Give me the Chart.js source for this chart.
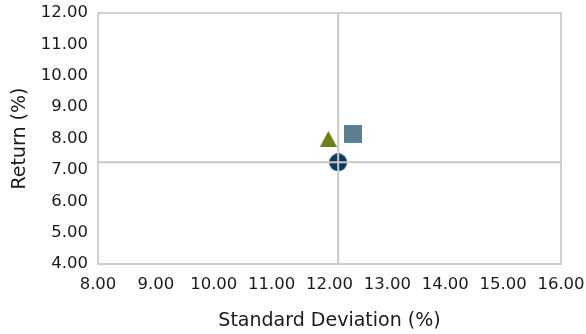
<!DOCTYPE html>
<html>
<head>
<meta charset="utf-8">
<script src="https://cdn.jsdelivr.net/npm/chart.js@4/dist/chart.umd.min.js"></script>
<style>
  html, body { margin: 0; padding: 0; background: #ffffff; }
  #wrap { width: 586px; height: 334px; position: relative; }
</style>
</head>
<body>
<div id="wrap"><canvas id="chart"></canvas></div>
<script>
// Risk / return values (%)
const seriesNames = ['Portfolio A', 'Portfolio B', 'Benchmark'];
const stdDevs = [11.98, 12.41, 12.15];
const returns = [7.99, 8.15, 7.24];

// Axis ticks
const xTicks = [8, 9, 10, 11, 12, 13, 14, 15, 16];
const yTicks = [4, 5, 6, 7, 8, 9, 10, 11, 12];

const benchmarkIndex = 2;
const gridGray = '#c9c9c9';
const textColor = '#1a1a1a';
const fontFamily = '"DejaVu Sans", sans-serif';

// Marker images
function makeMarker(shape, w, h, color) {
  const c = document.createElement('canvas');
  c.width = w; c.height = h;
  const ctx = c.getContext('2d');
  ctx.fillStyle = color;
  ctx.beginPath();
  if (shape === 'triangle') {
    ctx.moveTo(w / 2, 0);
    ctx.lineTo(w, h);
    ctx.lineTo(0, h);
    ctx.closePath();
  } else if (shape === 'square') {
    ctx.rect(0, 0, w, h);
  } else {
    ctx.arc(w / 2, h / 2, w / 2, 0, Math.PI * 2);
  }
  ctx.fill();
  return c;
}

const markers = [
  makeMarker('triangle', 17, 16, '#6e7f16'),
  makeMarker('square', 18, 18, '#5c7f94'),
  makeMarker('circle', 18, 18, '#0e3a5e')
];

const xMin = xTicks[0], xMax = xTicks[xTicks.length - 1];
const yMin = yTicks[0], yMax = yTicks[yTicks.length - 1];

const pointSets = seriesNames.map((name, i) => ({
  label: name,
  type: 'scatter',
  data: [{ x: stdDevs[i], y: returns[i] }],
  pointStyle: markers[i],
  pointRadius: 9,
  pointHoverRadius: 9,
  order: 2
}));

// Cross lines through the benchmark
const crossLines = [
  {
    label: 'bench-h',
    type: 'line',
    data: [{ x: xMin, y: returns[benchmarkIndex] }, { x: xMax, y: returns[benchmarkIndex] }],
    borderColor: gridGray, borderWidth: 2, pointRadius: 0, fill: false, order: 0
  },
  {
    label: 'bench-v',
    type: 'line',
    data: [{ x: stdDevs[benchmarkIndex], y: yMin }, { x: stdDevs[benchmarkIndex], y: yMax }],
    borderColor: gridGray, borderWidth: 2, pointRadius: 0, fill: false, order: 0
  }
];

const frame = {
  id: 'frame',
  beforeDatasetsDraw(chart) {
    const { ctx, chartArea: a } = chart;
    ctx.save();
    ctx.strokeStyle = '#d0d0d0';
    ctx.lineWidth = 2;
    ctx.strokeRect(a.left, a.top, a.right - a.left, a.bottom - a.top);
    ctx.restore();
  }
};

new Chart(document.getElementById('chart'), {
  type: 'scatter',
  data: { datasets: [...crossLines, ...pointSets] },
  plugins: [frame],
  options: {
    responsive: true,
    maintainAspectRatio: false,
    animation: false,
    layout: { padding: { left: 0, top: 13, right: 25, bottom: 0 } },
    plugins: { legend: { display: false }, tooltip: { enabled: false } },
    scales: {
      x: {
        type: 'linear',
        min: xMin, max: xMax,
        afterBuildTicks(scale) { scale.ticks = xTicks.map(v => ({ value: v })); },
        afterFit(scale) {
          scale.height = 70;
          scale.paddingLeft = 0;
          scale.paddingRight = 0;
        },
        grid: { display: false, drawTicks: false },
        border: { display: false },
        ticks: {
          padding: 11,
          color: textColor,
          font: { family: fontFamily, size: 16.5 },
          maxRotation: 0,
          callback: v => Number(v).toFixed(2)
        },
        title: {
          display: true,
          text: 'Standard Deviation (%)',
          color: textColor,
          font: { family: fontFamily, size: 19 },
          padding: { top: 1.5, bottom: 1.5 }
        }
      },
      y: {
        type: 'linear',
        min: yMin, max: yMax,
        afterBuildTicks(scale) { scale.ticks = yTicks.map(v => ({ value: v })); },
        afterFit(scale) {
          scale.width = 98;
          scale.paddingTop = 0;
          scale.paddingBottom = 0;
        },
        grid: { display: false, drawTicks: false },
        border: { display: false },
        ticks: {
          padding: 10,
          color: textColor,
          font: { family: fontFamily, size: 16.5 },
          callback: v => Number(v).toFixed(2)
        },
        title: {
          display: true,
          text: 'Return (%)',
          color: textColor,
          font: { family: fontFamily, size: 19 },
          padding: { top: 9, bottom: 9 }
        }
      }
    }
  }
});
</script>
</body>
</html>
